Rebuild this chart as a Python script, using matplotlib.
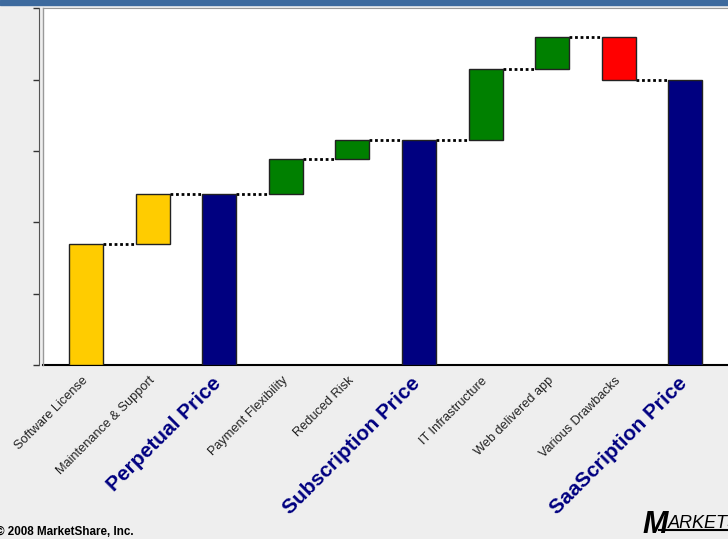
import numpy as np
import matplotlib.pyplot as plt
from matplotlib.patches import Rectangle
from matplotlib.transforms import offset_copy

plt.rcParams['font.family'] = ['Liberation Sans', 'DejaVu Sans']

categories = ["Software License", "Maintenance & Support", "Perpetual Price",
              "Payment Flexibility", "Reduced Risk", "Subscription Price",
              "IT Infrastructure", "Web delivered app", "Various Drawbacks",
              "SaaScription Price"]
# step values; None marks a total bar
steps = [1.69, 0.71, None, 0.48, 0.27, None, 1.00, 0.44, -0.59, None]
bar_colors = ["#FFCC00", "#FFCC00", "#000080", "#008000", "#008000",
              "#000080", "#008000", "#008000", "#FF0000", "#000080"]

# waterfall bottoms / heights
bottoms, heights, tops = [], [], []
level = 0.0
for s in steps:
    if s is None:
        bottoms.append(0.0)
        heights.append(level)
    else:
        bottoms.append(min(level, level + s))
        heights.append(abs(s))
        level += s
    tops.append(level)

x = np.arange(len(categories))
w = 0.51

fig = plt.figure(figsize=(7.28, 5.39), dpi=100, facecolor="#eeeeee")
# top banner
fig.patches.append(Rectangle((0, 0.99), 1, 0.01, transform=fig.transFigure,
                             color="#3d6a9e", zorder=0))

ax = fig.add_axes([0.059, 0.3228, 0.941, 0.662])
ax.set_facecolor("white")
ax.bar(x, heights, bottom=bottoms, width=w, color=bar_colors,
       edgecolor="#222222", linewidth=1.0, zorder=3)

# dotted connectors
for i in range(len(x) - 1):
    ax.plot([x[i] + w / 2, x[i + 1] - w / 2], [tops[i], tops[i]],
            color="black", linestyle=(0, (1, 1)), linewidth=2, zorder=2)

ax.set_xlim(-0.646, 9.64)
ax.set_ylim(0, 5)
ax.set_yticks(np.arange(0, 6, 1))
ax.set_yticklabels([])
ax.tick_params(axis="y", length=4, width=1, color="#333333")
ax.set_xticks([])

ax.spines["right"].set_visible(False)
ax.spines["top"].set_color("#999999")
ax.spines["left"].set_position(("outward", 3))
ax.spines["left"].set_color("#555555")
ax.spines["bottom"].set_color("black")
ax.spines["bottom"].set_linewidth(1.5)
ax.plot([0, 0], [0, 1], transform=ax.transAxes, color="#999999",
        linewidth=1, clip_on=False, zorder=5)

# rotated category labels
base = ax.get_xaxis_transform()
for xi, name, s in zip(x, categories, steps):
    if s is None:
        tr = offset_copy(base, fig=fig, x=-1, y=-11, units="points")
        ax.text(xi, 0, name, transform=tr, rotation=45, rotation_mode="anchor",
                ha="right", va="center", fontsize=15, fontweight="bold",
                color="#000080")
    else:
        tr = offset_copy(base, fig=fig, x=0, y=-10, units="points")
        ax.text(xi, 0, name, transform=tr, rotation=45, rotation_mode="anchor",
                ha="right", va="center", fontsize=9.2, color="#222222")

fig.text(-0.006, 0.008, "\u00a9 2008 MarketShare, Inc.", fontsize=8.4,
         fontweight="bold", color="black")
fig.text(0.883, 0.012, "M", fontsize=22, fontweight="bold", style="italic",
         color="black")
fig.text(0.918, 0.02, "ARKETS", fontsize=13, style="italic", color="black")
fig.lines.append(plt.Line2D([0.905, 1.0], [0.016, 0.016], transform=fig.transFigure,
                            color="black", linewidth=1.5))

fig.savefig("out.png", dpi=100, facecolor=fig.get_facecolor())
